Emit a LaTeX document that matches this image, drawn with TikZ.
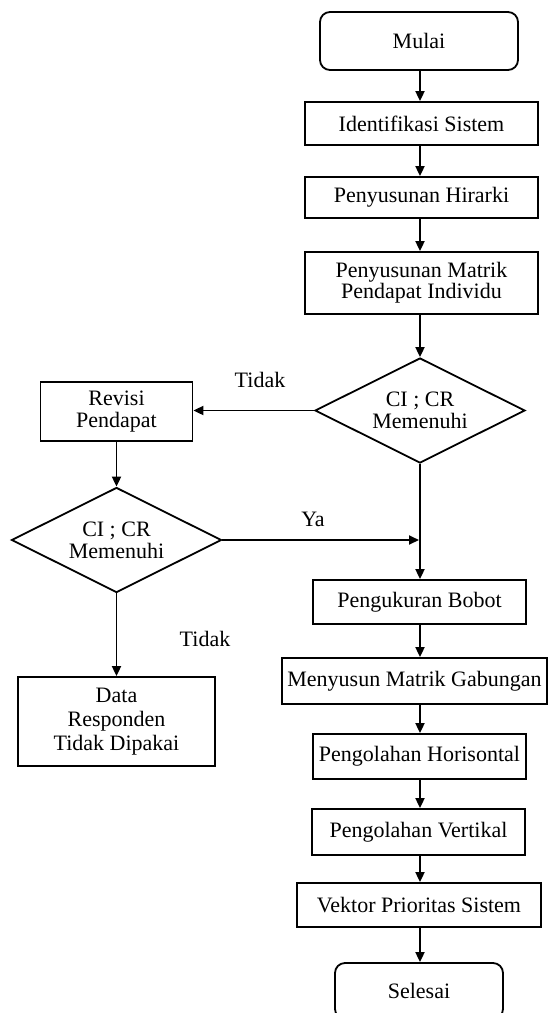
\documentclass[tikz,border=0pt]{standalone}
\usepackage{fontspec}
\setmainfont{Liberation Serif}
\usetikzlibrary{shapes.geometric,arrows.meta}
\tikzset{
  box/.style={draw, line width=1.8pt, inner sep=0pt, align=center, font=\fontsize{22}{22}\selectfont},
  term/.style={box, rounded corners=10pt},
  dec/.style={draw, diamond, aspect=2, line width=1.8pt, inner sep=0pt, align=center,
              minimum width=210pt, minimum height=105pt, font=\fontsize{22}{22}\selectfont},
  arr/.style={-{Triangle[width=9pt,length=10pt]}, line width=1.8pt},
  lbl/.style={font=\fontsize{22}{22}\selectfont, inner sep=0pt}
}
\begin{document}
\begin{tikzpicture}[x=1pt,y=-1pt]
\useasboundingbox (0,0) rectangle (548,1013);
\clip (0,0) rectangle (548,1013);
\coordinate (col) at (420,0);
% main column
\node[term, minimum width=198pt, minimum height=58pt] (mulai) at (419,41) {Mulai};
\node[box, minimum width=233pt, minimum height=43pt] (ident) at (421.5,123.5) {Identifikasi Sistem};
\node[box, minimum width=233pt, minimum height=41pt] (hir) at (421.5,197.5) {Penyusunan Hirarki};
\node[box, minimum width=233pt, minimum height=62pt, font=\fontsize{22}{19}\selectfont] (mat) at (421.5,283) {Penyusunan Matrik\\Pendapat Individu};
\node[dec] (d1) at (420,410.5) {CI ; CR\\Memenuhi};
\node[box, minimum width=213pt, minimum height=44pt] (bobot) at (419.5,602) {Pengukuran Bobot};
\node[box, minimum width=265pt, minimum height=46pt] (gab) at (414.5,681) {Menyusun Matrik Gabungan};
\node[box, minimum width=213pt, minimum height=45pt] (hor) at (419.5,756.5) {Pengolahan Horisontal};
\node[box, minimum width=213pt, minimum height=46pt] (ver) at (418.5,832) {Pengolahan Vertikal};
\node[box, minimum width=244pt, minimum height=44pt] (vek) at (419,905) {Vektor Prioritas Sistem};
\node[term, minimum width=168pt, minimum height=56pt] (sel) at (419,991) {Selesai};
% left column
\node[box, minimum width=152pt, minimum height=59pt] (rev) at (116.5,411.5) {Revisi\\Pendapat};
\node[dec] (d2) at (116.5,540) {CI ; CR\\Memenuhi};
\node[box, minimum width=197pt, minimum height=89pt, font=\fontsize{22}{24}\selectfont] (data) at (116.5,721.5) {Data\\Responden\\Tidak Dipakai};
% labels
\node[lbl] (t1) at (260,380) {Tidak};
\node[lbl] (ya) at (313,519) {Ya};
\node[lbl] (t2) at (205,639) {Tidak};
% connectors
\draw[arr] (mulai.south -| col) -- (ident.north -| col);
\draw[arr] (ident.south -| col) -- (hir.north -| col);
\draw[arr] (hir.south -| col) -- (mat.north -| col);
\draw[arr] (mat.south -| col) -- (d1.north);
\draw[arr] (d1.south) -- (bobot.north -| d1.south);
\draw[arr] (d1.west) -- (rev.east |- d1.west);
\draw[arr] (rev.south) -- (d2.north);
\coordinate (yaend) at (419,540);
\draw[arr] (d2.east) -- (yaend);
\draw[arr] (d2.south) -- (data.north);
\draw[arr] (bobot.south -| col) -- (gab.north -| col);
\draw[arr] (gab.south -| col) -- (hor.north -| col);
\draw[arr] (hor.south -| col) -- (ver.north -| col);
\draw[arr] (ver.south -| col) -- (vek.north -| col);
\draw[arr] (vek.south -| col) -- (sel.north -| col);
\end{tikzpicture}
\end{document}
